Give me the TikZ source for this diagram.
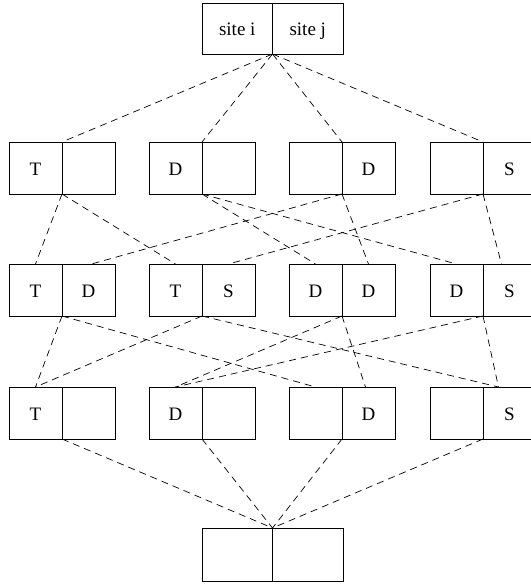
\documentclass[tikz,border=0pt]{standalone}
\usepackage{fontspec}
\setmainfont{Liberation Serif}
\begin{document}
\begin{tikzpicture}[x=1pt,y=-1pt,
  cell/.style={draw, line width=0.8pt, minimum width=53pt, minimum height=52pt,
    inner sep=0pt, outer sep=0pt, text height=14pt, text depth=0pt,
    font=\fontsize{19}{22}\selectfont},
  wide/.style={cell, minimum width=70.5pt, minimum height=51pt},
  link/.style={line width=0.7pt, dash pattern=on 7pt off 5pt}]
\useasboundingbox (0,0) rectangle (530,586);
% top box
\node[wide] (tl) at (237.25,28.5) {site i};
\node[wide] (tr) at (307.75,28.5) {site j};
% row 1
\node[cell] (r1b1l) at (35.5,168) {T};   \node[cell] (r1b1r) at (88.5,168) {};
\node[cell] (r1b2l) at (175.5,168) {D};  \node[cell] (r1b2r) at (228.5,168) {};
\node[cell] (r1b3l) at (315.5,168) {};   \node[cell] (r1b3r) at (368.5,168) {D};
\node[cell] (r1b4l) at (456.5,168) {};   \node[cell] (r1b4r) at (509.5,168) {S};
% row 2
\node[cell] (r2b1l) at (35.5,290) {T};   \node[cell] (r2b1r) at (88.5,290) {D};
\node[cell] (r2b2l) at (175.5,290) {T};  \node[cell] (r2b2r) at (228.5,290) {S};
\node[cell] (r2b3l) at (315.5,290) {D};  \node[cell] (r2b3r) at (368.5,290) {D};
\node[cell] (r2b4l) at (456.5,290) {D};  \node[cell] (r2b4r) at (509.5,290) {S};
% row 3
\node[cell] (r3b1l) at (35.5,413) {T};   \node[cell] (r3b1r) at (88.5,413) {};
\node[cell] (r3b2l) at (175.5,413) {D};  \node[cell] (r3b2r) at (228.5,413) {};
\node[cell] (r3b3l) at (315.5,413) {};   \node[cell] (r3b3r) at (368.5,413) {D};
\node[cell] (r3b4l) at (456.5,413) {};   \node[cell] (r3b4r) at (509.5,413) {S};
% bottom box
\node[wide, minimum height=53pt] (bl) at (237.25,554.5) {};
\node[wide, minimum height=53pt] (br) at (307.75,554.5) {};
% top -> row 1
\foreach \b in {1,2,3,4} \draw[link] (tl.south east) -- (r1b\b l.north east);
% row 1 -> row 2
\draw[link] (r1b1l.south east) -- (r2b1l.north);
\draw[link] (r1b1l.south east) -- (r2b2l.north);
\draw[link] (r1b2l.south east) -- (r2b3l.north);
\draw[link] (r1b2l.south east) -- (r2b4l.north);
\draw[link] (r1b3l.south east) -- ([xshift=3pt]r2b1r.north);
\draw[link] (r1b3l.south east) -- (r2b3r.north);
\draw[link] (r1b4l.south east) -- (r2b2r.north);
\draw[link] (r1b4l.south east) -- ([xshift=-8pt]r2b4r.north);
% row 2 -> row 3
\draw[link] (r2b1l.south east) -- (r3b1l.north);
\draw[link] (r2b1l.south east) -- (r3b3l.north);
\draw[link] (r2b2l.south east) -- (r3b1l.north);
\draw[link] (r2b2l.south east) -- ([xshift=-11pt]r3b4r.north);
\draw[link] (r2b3l.south east) -- (r3b2l.north);
\draw[link] (r2b3l.south east) -- ([xshift=-3pt]r3b3r.north);
\draw[link] (r2b4l.south east) -- (r3b2l.north);
\draw[link] (r2b4l.south east) -- ([xshift=-11pt]r3b4r.north);
% row 3 -> bottom
\foreach \b in {1,2,3,4} \draw[link] (r3b\b l.south east) -- (bl.north east);
\end{tikzpicture}
\end{document}
